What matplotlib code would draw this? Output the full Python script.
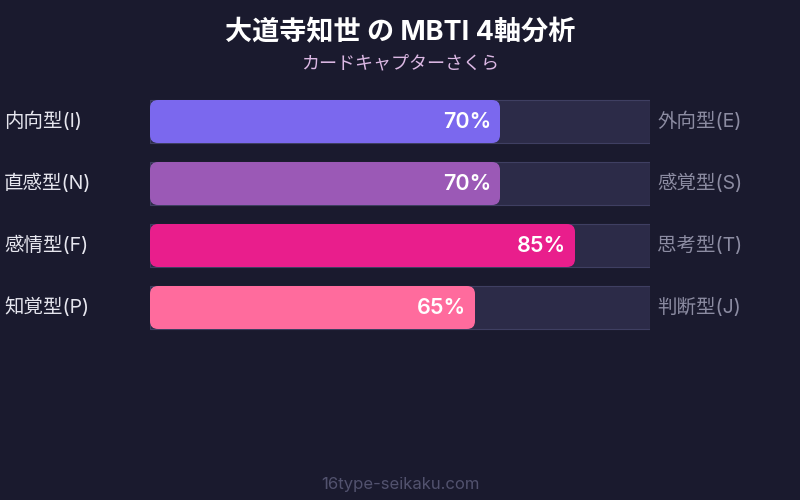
import matplotlib
matplotlib.use("Agg")
import matplotlib.pyplot as plt
from matplotlib.patches import FancyBboxPatch

plt.rcParams['font.family'] = ['Inter', 'Noto Sans CJK JP', 'DejaVu Sans']

title = "大道寺知世 の MBTI 4軸分析"
subtitle = "カードキャプターさくら"
footer = "16type-seikaku.com"
left_labels = ["内向型(I)", "直感型(N)", "感情型(F)", "知覚型(P)"]
right_labels = ["外向型(E)", "感覚型(S)", "思考型(T)", "判断型(J)"]
values = [70, 70, 85, 65]
colors = ["#7b68ee", "#9b59b6", "#e91e8c", "#ff6b9d"]

BG = "#1a1a2e"
W, H = 800, 500
fig = plt.figure(figsize=(W / 100, H / 100), dpi=100, facecolor=BG)

# bar axes: track spans x 150..650 px, rows centred at 121.5 + 62*i px
row_px = 62.0
top_px = 121.5 - row_px / 2
bot_px = 121.5 + row_px * 3.5
ax = fig.add_axes([150 / W, 1 - bot_px / H, 500 / W, (bot_px - top_px) / H])
ax.set_facecolor("none")
ax.set_xlim(0, 100)
ax.set_ylim(3.5, -0.5)
ax.axis("off")

bar_h = 43 / row_px
px_x = 500 / 100.0  # pixels per x unit
dy = -2 / row_px     # text nudge up
ypos = list(range(len(values)))

ax.barh(ypos, [100] * len(values), height=bar_h, left=0, color="#2c2b48",
        edgecolor="#3f3f62", linewidth=0.8, zorder=1)

aspect = (1 / row_px) / (1 / px_x)
for y, v, c in zip(ypos, values, colors):
    p = FancyBboxPatch((0, y - bar_h / 2), v, bar_h,
                       boxstyle="round,pad=0,rounding_size=%f" % (8 / px_x),
                       mutation_aspect=aspect, facecolor=c, edgecolor="none",
                       zorder=2)
    ax.add_patch(p)
    ax.text(v - 9 / px_x, y + dy, f"{v}%", ha="right", va="center_baseline",
            color="white", fontsize=15.5, fontweight="semibold", zorder=3)

for y, lab in zip(ypos, left_labels):
    ax.text(-146 / px_x, y + dy, lab, ha="left", va="center_baseline",
            color="#e6e6ee", fontsize=14, clip_on=False)
for y, lab in zip(ypos, right_labels):
    ax.text(100 + 7 / px_x, y + dy, lab, ha="left", va="center_baseline",
            color="#8c8ca2", fontsize=14, clip_on=False)

fig.text(0.5, 1 - 33 / H, title, ha="center", va="center", color="white",
         fontsize=19.5, fontweight="bold")
fig.text(0.5, 1 - 64 / H, subtitle, ha="center", va="center",
         color="#dcb8e4", fontsize=13)
fig.text(0.5, 1 - 484 / H, footer, ha="center", va="center",
         color="#52526e", fontsize=12)

fig.savefig("out.png", dpi=100, facecolor=BG)
